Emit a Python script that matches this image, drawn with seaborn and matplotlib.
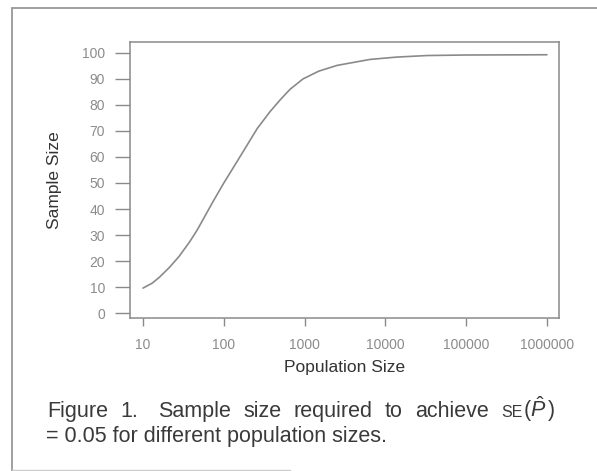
import matplotlib
matplotlib.use("Agg")
import matplotlib.pyplot as plt
import seaborn as sns
import pandas as pd
from matplotlib.lines import Line2D

# Values
population = [10, 13, 16, 21, 28, 38, 47, 74, 100, 158, 260, 375, 500, 660, 955,
              1500, 2520, 6450, 13800, 33000, 100000, 1000000]
sample = [9.6, 11.5, 13.8, 17.4, 21.8, 27.5, 32, 43, 50, 60, 71, 77.5, 82, 86, 90,
          93, 95.2, 97.5, 98.4, 99, 99.2, 99.3]
xticks = [10, 100, 1000, 10000, 100000, 1000000]
xticklabels = ["10", "100", "1000", "10000", "100000", "1000000"]
yticks = [0, 10, 20, 30, 40, 50, 60, 70, 80, 90, 100]
caption_words = ["Figure", "1.", "Sample", "size", "required", "to", "achieve"]
caption_line2 = "= 0.05 for different population sizes."

df = pd.DataFrame({"Population Size": population, "Sample Size": sample})

sns.set_theme(style="white")
plt.rcParams["font.family"] = ["Liberation Sans", "DejaVu Sans"]
plt.rcParams["mathtext.fontset"] = "custom"
plt.rcParams["mathtext.rm"] = "Liberation Sans"
plt.rcParams["mathtext.it"] = "Liberation Sans:italic"

W, H = 597, 471
fig = plt.figure(figsize=(W / 100, H / 100), dpi=100)
fig.patch.set_facecolor("white")
ax = fig.add_axes([130 / W, 1 - 318 / H, (559 - 130) / W, (318 - 42) / H])

sns.lineplot(data=df, x="Population Size", y="Sample Size", ax=ax,
             color="#8a8a8a", linewidth=1.2)
ax.set_xscale("log")
ax.set_xlim(6.9, 1.41e6)
ax.set_ylim(-1.9, 104.2)
ax.set_xticks(xticks)
ax.set_xticklabels(xticklabels)
ax.set_yticks(yticks)
ax.minorticks_off()

for s in ax.spines.values():
    s.set_color("#8a8a8a")
    s.set_linewidth(1.1)
    s.set_visible(True)

ax.tick_params(axis="y", which="major", direction="out", length=11, width=1.0,
               color="#8a8a8a", labelcolor="#8c8c8c", labelsize=10, pad=7, left=True)
ax.tick_params(axis="x", which="major", direction="out", length=6, width=1.0,
               color="#8a8a8a", labelcolor="#8c8c8c", labelsize=10, pad=8.5, bottom=True)

ax.set_xlabel("Population Size", fontsize=12.5, color="#333333", labelpad=6)
ax.set_ylabel("Sample Size", fontsize=12.5, color="#333333", labelpad=14)

# outer frame
frame_kw = dict(color="#999999", linewidth=1.3, transform=fig.transFigure)
fig.add_artist(Line2D([12 / W, 12 / W], [1 - 8 / H, 0], **frame_kw))
fig.add_artist(Line2D([12 / W, 1], [1 - 8 / H, 1 - 8 / H], **frame_kw))
fig.add_artist(Line2D([12 / W, 290 / W], [1 - 469.5 / H, 1 - 469.5 / H],
                      color="#cccccc", linewidth=1.0, transform=fig.transFigure))

# caption (line 1 justified between x=47 and x=555)
cap_color = "#3a3a3a"
y1 = 1 - 417 / H
y2 = 1 - 442 / H
fig.text(46 / W, y2, caption_line2, fontsize=15.5, color=cap_color, va="baseline", ha="left")

word_texts = [fig.text(0, y1, w, fontsize=15.5, color=cap_color, va="baseline", ha="left")
              for w in caption_words]
se_text = fig.text(0, y1, "SE", fontsize=11.5, color=cap_color, va="baseline", ha="left")
p_text = fig.text(0, y1, r"$(\hat{P}\,)$", fontsize=15.5, color=cap_color,
                  va="baseline", ha="left")
fig.canvas.draw()
r = fig.canvas.get_renderer()
widths = [t.get_window_extent(r).width for t in word_texts]
w_se = se_text.get_window_extent(r).width
w_p = p_text.get_window_extent(r).width
x_left, x_right = 47.0, 555.0
gaps_after = [1, 1.6, 1, 1, 1, 1, 1]
total = sum(widths) + w_se + w_p
gap = (x_right - x_left - total) / sum(gaps_after)
x = x_left
for t, w, g in zip(word_texts, widths, gaps_after):
    t.set_x(x / W)
    x += w + g * gap
se_text.set_x(x / W)
p_text.set_x((x + w_se) / W)

fig.savefig("out.png", dpi=100, facecolor="white")
